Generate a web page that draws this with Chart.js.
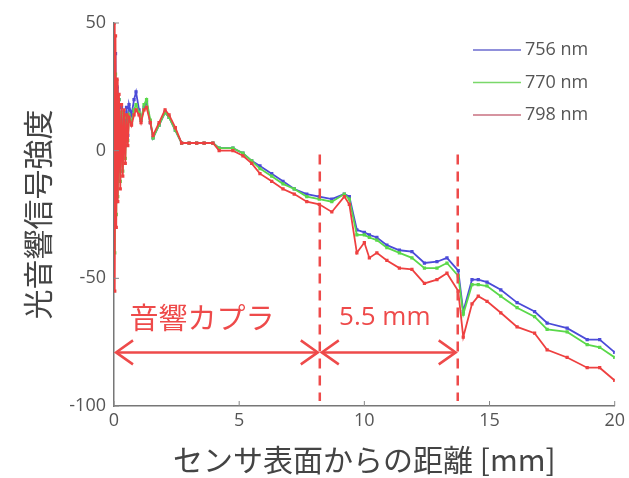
<!DOCTYPE html>
<html>
<head>
<meta charset="utf-8">
<script src="https://cdn.jsdelivr.net/npm/chart.js@4/dist/chart.umd.min.js"></script>
<style>
  html, body { margin: 0; padding: 0; background: #fff; }
  #wrap { width: 629px; height: 478px; }
</style>
</head>
<body>
<div id="wrap"><canvas id="chart"></canvas></div>
<script>
// distance from sensor surface [mm]
const distanceMm = [0, 0.03, 0.06, 0.09, 0.12, 0.15, 0.2, 0.25, 0.3, 0.35, 0.4, 0.45, 0.5, 0.55, 0.6, 0.7, 0.8, 0.88,
  1.0, 1.08, 1.2, 1.3, 1.45, 1.56, 1.8, 2.04, 2.2, 2.45, 2.7, 3.0, 3.3, 3.6, 3.95, 4.2, 4.75, 5.15, 5.5, 5.83,
  6.3, 6.75, 7.2, 7.7, 8.2, 8.7, 9.2, 9.4, 9.7, 10.0, 10.2, 10.5, 10.9, 11.4, 11.9, 12.4, 12.9, 13.3, 13.75,
  13.95, 14.3, 14.55, 14.9, 15.45, 16.1, 16.8, 17.3, 18.1, 18.9, 19.4, 20];

const signal756 = [40, -27, 38, -20, 25, -12, 20, -8, 17, -3, 15, 2, 17, 6, 18, 14, 20, 23,
  16, 12, 17, 19, 11, 5, 10, 15, 13, 8, 3, 3, 3, 3, 3, 1, 1, -1, -4, -6,
  -9, -12, -15, -17, -18, -19, -17, -18, -31, -32, -33, -34, -37, -39, -39.5, -44, -43.5, -42, -47,
  -63, -50.5, -50.5, -51.5, -54.5, -59.5, -63, -67.5, -69.5, -74, -74, -79];

const signal770 = [45, -40, 30, -25, 22, -18, 20, -12, 15, -8, 14, -3, 13, 4, 14, 11, 16, 18,
  15, 12, 18, 20, 12, 5, 10, 15, 13, 8, 3, 3, 3, 3, 3, 1, 1, -1, -4, -7,
  -10, -13, -15, -18, -19, -20, -17, -19, -33, -33, -34, -35, -38, -40, -42, -46, -46, -44, -49,
  -64, -52.5, -52.5, -53, -57, -61.5, -65, -70, -71, -76, -77, -81];

const signal798 = [50, -55, 45, -30, 28, -20, 22, -15, 18, -10, 16, -5, 14, 2, 13, 10, 14, 16,
  14, 11, 16, 17, 11, 6, 11, 16, 14, 9, 3, 3, 3, 3, 3, 0, 0, -2, -5, -9,
  -12, -15, -17, -20, -21, -24, -18, -21, -40, -36, -42, -40, -43, -46, -46.5, -52, -50.5, -48, -55,
  -73, -60, -57, -59, -63.5, -69, -71.5, -78, -81, -85, -85, -90];

const wavelengths = ['756 nm', '770 nm', '798 nm'];
const xTicks = [0, 5, 10, 15, 20];
const yTicks = [-100, -50, 0, 50];

// acoustic coupler boundary and the second marker [mm]
const couplerEnd = 8.22;
const markerEnd = 13.73;

const lineColors = ['#4b4bd8', '#5ad84a', '#ee4040'];
const legendColors = ['#6b6bcf', '#7ad86a', '#c87080'];

const toPoints = vals => distanceMm.map((d, i) => ({ x: d, y: vals[i] }));

const series = [signal756, signal770, signal798];

const annotate = {
  id: 'annotate',
  afterDatasetsDraw(chart) {
    const { ctx, chartArea, scales: { x, y } } = chart;
    ctx.save();

    // inward tick marks
    ctx.strokeStyle = '#888';
    ctx.lineWidth = 1;
    xTicks.forEach(t => {
      const px = x.getPixelForValue(t);
      ctx.beginPath();
      ctx.moveTo(px, chartArea.bottom);
      ctx.lineTo(px, chartArea.bottom - 5);
      ctx.stroke();
    });
    yTicks.forEach(t => {
      const py = y.getPixelForValue(t);
      ctx.beginPath();
      ctx.moveTo(chartArea.left, py);
      ctx.lineTo(chartArea.left + 5, py);
      ctx.stroke();
    });

    // dashed boundaries
    const red = '#ee4a4a';
    ctx.strokeStyle = red;
    ctx.lineWidth = 2.5;
    ctx.setLineDash([10, 7]);
    [couplerEnd, markerEnd].forEach(v => {
      const px = x.getPixelForValue(v);
      ctx.beginPath();
      ctx.moveTo(px, y.getPixelForValue(-1.5));
      ctx.lineTo(px, y.getPixelForValue(-98));
      ctx.stroke();
    });
    ctx.setLineDash([]);

    // double arrows
    const ay = y.getPixelForValue(-79);
    const head = (px, dir) => {
      ctx.beginPath();
      ctx.moveTo(px + dir * 17, ay - 12);
      ctx.lineTo(px, ay);
      ctx.lineTo(px + dir * 17, ay + 12);
      ctx.stroke();
    };
    [[0, couplerEnd], [couplerEnd, markerEnd]].forEach(([a, b]) => {
      const pa = x.getPixelForValue(a) + 2;
      const pb = x.getPixelForValue(b) - 2;
      ctx.beginPath();
      ctx.moveTo(pa, ay);
      ctx.lineTo(pb, ay);
      ctx.stroke();
      head(pa, 1);
      head(pb, -1);
    });

    ctx.fillStyle = red;
    ctx.textAlign = 'center';
    ctx.textBaseline = 'middle';
    ctx.font = '29px "Noto Sans CJK JP"';
    ctx.fillText('音響カプラ', x.getPixelForValue(couplerEnd / 2) - 15, y.getPixelForValue(-65.5));
    ctx.font = '26px "Open Sans"';
    ctx.fillText('5.5 mm', x.getPixelForValue((couplerEnd + markerEnd) / 2) - 4, y.getPixelForValue(-65.5));

    // legend
    ctx.textAlign = 'left';
    ctx.font = '18px "Open Sans"';
    ctx.lineWidth = 1.5;
    wavelengths.forEach((w, i) => {
      const ly = 50 + i * 32.5;
      ctx.strokeStyle = legendColors[i];
      ctx.beginPath();
      ctx.moveTo(473, ly);
      ctx.lineTo(521, ly);
      ctx.stroke();
      ctx.fillStyle = '#555';
      ctx.fillText(w, 525, ly);
    });
    ctx.restore();
  }
};

new Chart(document.getElementById('chart'), {
  type: 'line',
  data: {
    datasets: series.map((vals, i) => ({
      label: wavelengths[i],
      data: toPoints(vals),
      borderColor: lineColors[i],
      backgroundColor: lineColors[i],
      borderWidth: 1.8,
      pointStyle: 'rect',
      pointRadius: 2.3,
      pointBorderWidth: 0,
      tension: 0,
      order: 3 - i
    }))
  },
  options: {
    responsive: true,
    maintainAspectRatio: false,
    animation: false,
    layout: { padding: { top: 23, right: 14, left: 20, bottom: 0 } },
    plugins: {
      legend: { display: false },
      tooltip: { enabled: false }
    },
    scales: {
      x: {
        type: 'linear',
        min: 0,
        max: 20,
        afterBuildTicks: s => { s.ticks = xTicks.map(v => ({ value: v })); },
        afterFit: s => { s.height = 72; },
        grid: { drawOnChartArea: false, drawTicks: false },
        border: { color: '#777', width: 1.5 },
        ticks: { color: '#555', font: { family: 'Open Sans', size: 18 }, padding: 4 },
        title: {
          display: true,
          text: 'センサ表面からの距離 [mm]',
          color: '#444',
          font: { family: 'Noto Sans CJK JP', size: 30 },
          padding: { top: 0, bottom: 0 }
        }
      },
      y: {
        min: -100,
        max: 50,
        afterBuildTicks: s => { s.ticks = yTicks.map(v => ({ value: v })); },
        afterFit: s => { s.width = 94; },
        grid: { drawOnChartArea: false, drawTicks: false },
        border: { color: '#777', width: 1.5 },
        ticks: { color: '#555', font: { family: 'Open Sans', size: 18 }, padding: 8 },
        title: {
          display: true,
          text: '光音響信号強度',
          color: '#444',
          font: { family: 'Noto Sans CJK JP', size: 30 },
          padding: 0
        }
      }
    }
  },
  plugins: [annotate]
});
</script>
</body>
</html>
